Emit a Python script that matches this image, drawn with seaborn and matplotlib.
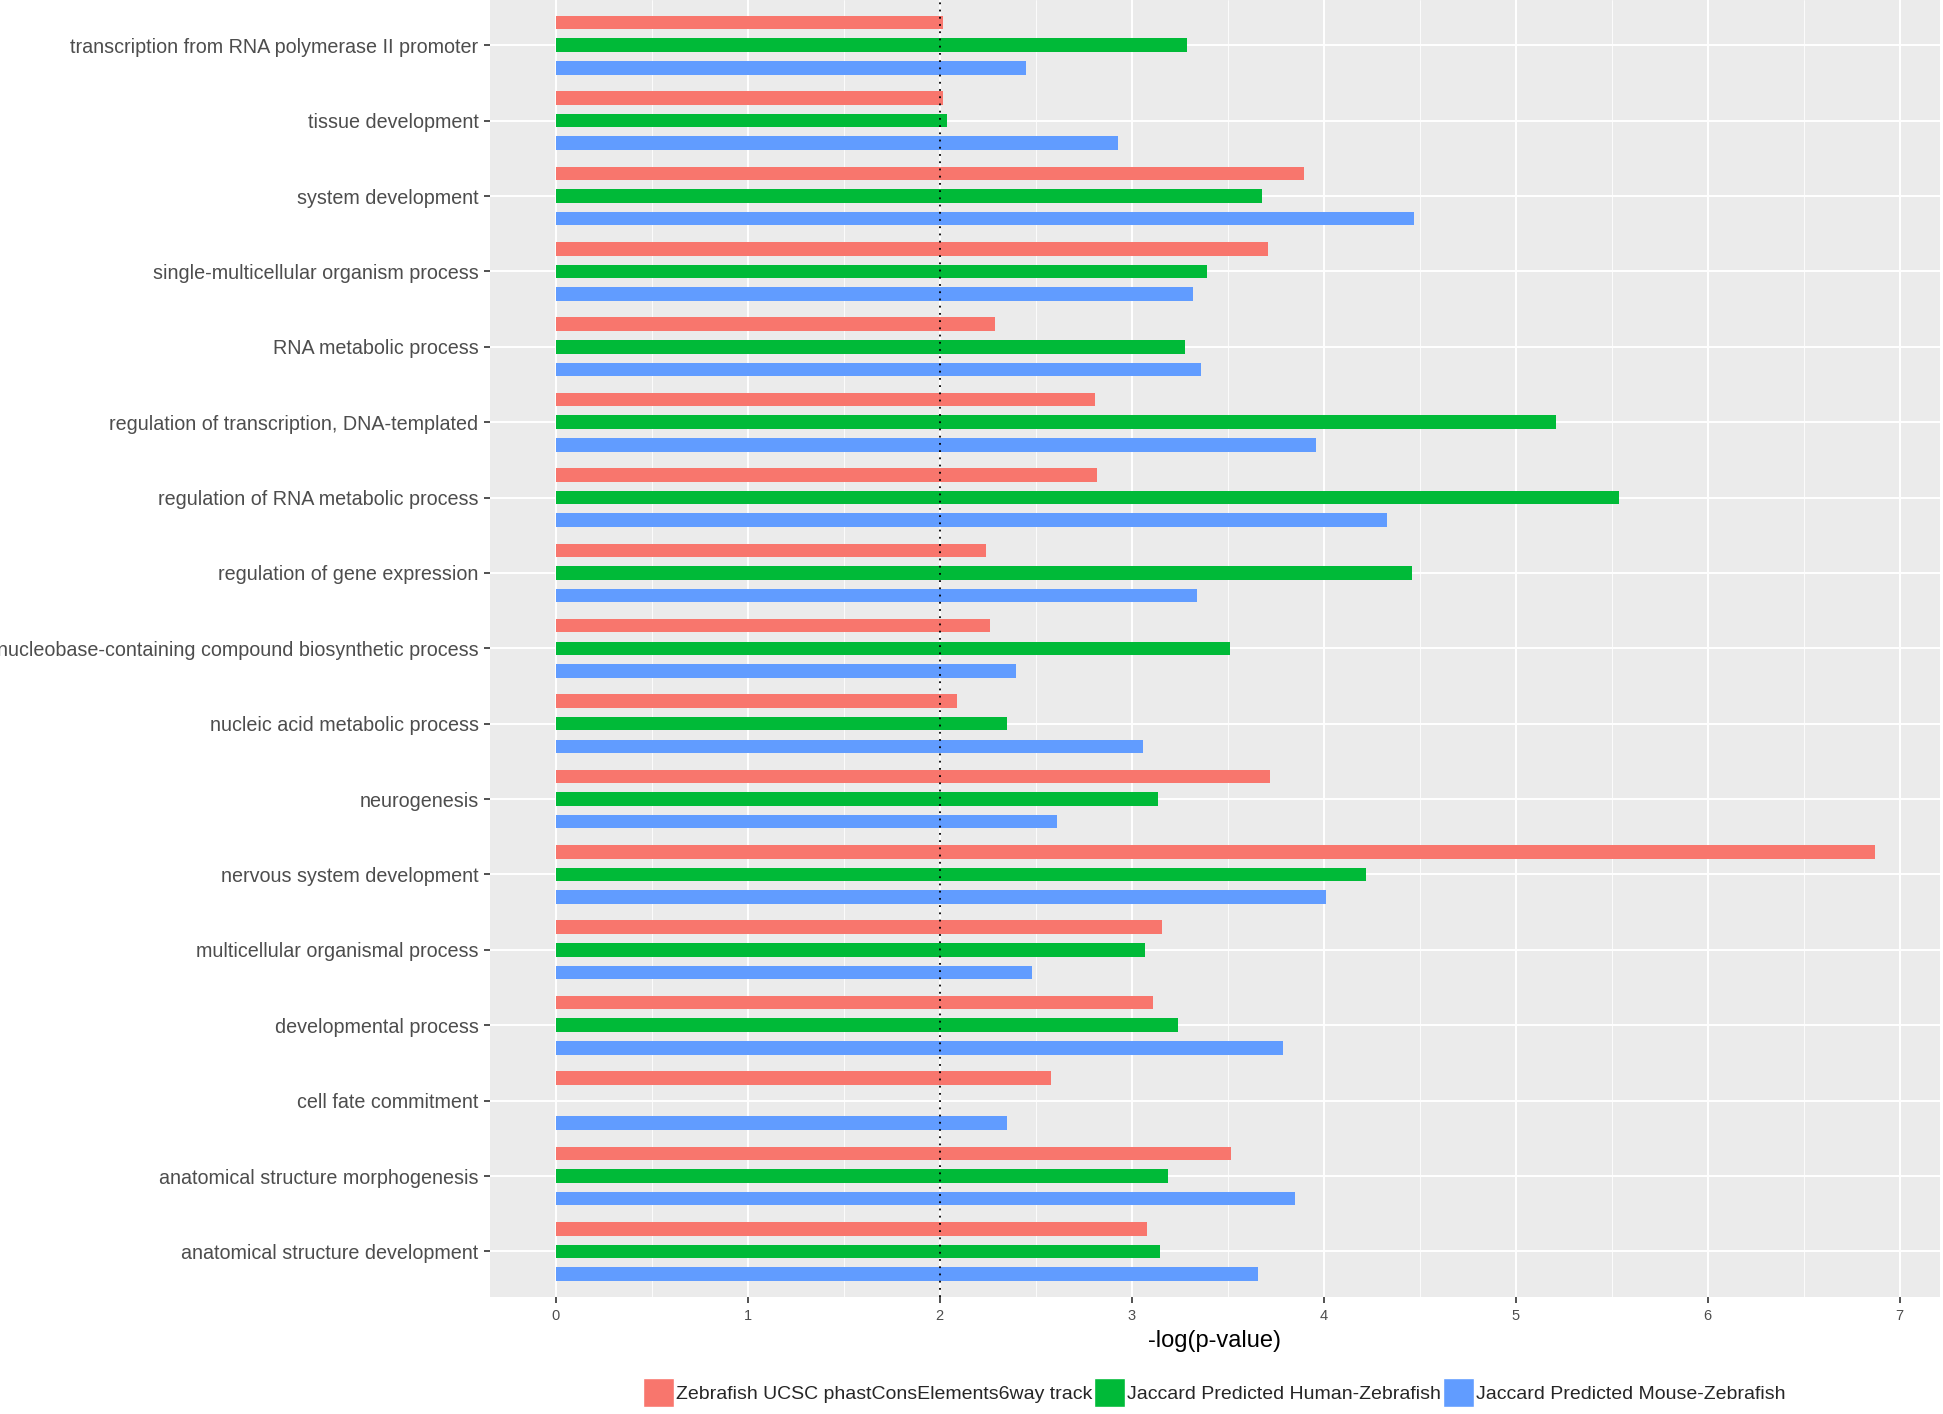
import pandas as pd
import matplotlib.pyplot as plt
import seaborn as sns
from matplotlib.patches import Patch

# GO terms, top to bottom as drawn
terms = [
    "transcription from RNA polymerase II promoter",
    "tissue development",
    "system development",
    "single-multicellular organism process",
    "RNA metabolic process",
    "regulation of transcription, DNA-templated",
    "regulation of RNA metabolic process",
    "regulation of gene expression",
    "nucleobase-containing compound biosynthetic process",
    "nucleic acid metabolic process",
    "neurogenesis",
    "nervous system development",
    "multicellular organismal process",
    "developmental process",
    "cell fate commitment",
    "anatomical structure morphogenesis",
    "anatomical structure development",
]

sources = [
    "Zebrafish UCSC phastConsElements6way track",
    "Jaccard Predicted Human-Zebrafish",
    "Jaccard Predicted Mouse-Zebrafish",
]

ucsc = [2.02, 2.02, 3.90, 3.71, 2.29, 2.81, 2.82, 2.24, 2.26, 2.09, 3.72, 6.87, 3.16, 3.11, 2.58, 3.52, 3.08]
human = [3.29, 2.04, 3.68, 3.39, 3.28, 5.21, 5.54, 4.46, 3.51, 2.35, 3.14, 4.22, 3.07, 3.24, None, 3.19, 3.15]
mouse = [2.45, 2.93, 4.47, 3.32, 3.36, 3.96, 4.33, 3.34, 2.40, 3.06, 2.61, 4.01, 2.48, 3.79, 2.35, 3.85, 3.66]

colors = ["#F8766D", "#00BA38", "#619CFF"]

df = pd.DataFrame({
    "term": terms * 3,
    "source": [sources[0]] * 17 + [sources[1]] * 17 + [sources[2]] * 17,
    "value": ucsc + human + mouse,
})
df = df.dropna()

sns.set_theme(style="darkgrid")
plt.rcParams["font.family"] = ["Liberation Sans", "DejaVu Sans"]

fig = plt.figure(figsize=(19.43, 14.14), dpi=100)
ax = fig.add_axes([0.252, 0.083, 0.7465, 0.917])
ax.set_facecolor("#EBEBEB")

sns.barplot(data=df, y="term", x="value", hue="source", order=terms,
            hue_order=sources, palette=colors, saturation=1, orient="h",
            width=0.9, gap=0.4, linewidth=0, errorbar=None, legend=False, ax=ax)

# significance threshold
ax.axvline(2, color="black", linestyle=(0, (1, 3)), linewidth=1.3)

ax.set_xlim(-0.343, 7.21)
ax.set_ylim(16.6, -0.6)
ax.set_xticks(range(8))
ax.set_xticks([0.5 + i for i in range(7)], minor=True)
ax.grid(which="major", color="white", linewidth=1.4)
ax.grid(which="minor", axis="x", color="white", linewidth=0.6)
ax.set_axisbelow(True)
for s in ax.spines.values():
    s.set_visible(False)

ax.tick_params(axis="y", labelsize=14.2, labelcolor="#4D4D4D", length=4,
               width=1.2, color="#333333", pad=4, left=True)
ax.tick_params(axis="x", labelsize=10.5, labelcolor="#4D4D4D", length=4,
               width=1.2, color="#333333", pad=5, bottom=True)
ax.tick_params(which="minor", length=0)
ax.set_ylabel("")
ax.set_xlabel("-log(p-value)", fontsize=17, color="black", labelpad=5)

handles = [Patch(facecolor=c, edgecolor="white", linewidth=1) for c in colors]
fig.legend(handles, sources, loc="center", bbox_to_anchor=(0.625, 0.015),
           ncol=3, frameon=False, fontsize=14, handlelength=1.6,
           handleheight=1.9, handletextpad=0.1, columnspacing=0.1)

fig.savefig("out.png", dpi=100)
